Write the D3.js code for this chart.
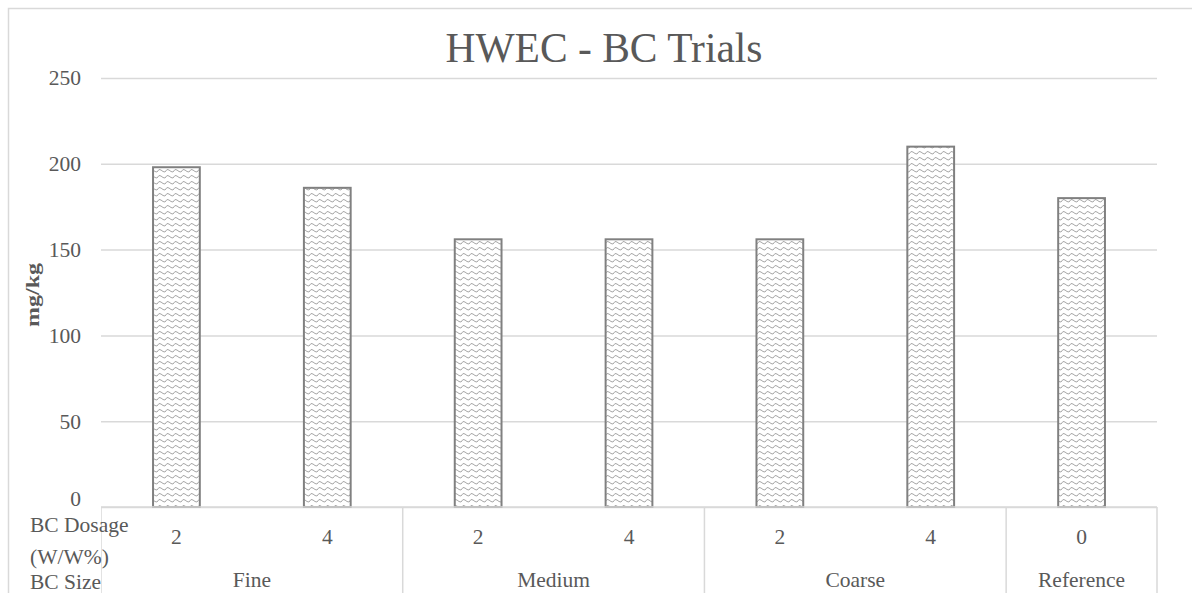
<!DOCTYPE html>
<html>
<head>
<meta charset="utf-8">
<script src="https://cdn.jsdelivr.net/npm/d3@7"></script>
<style>
  html, body { margin: 0; padding: 0; background: #fff; overflow: hidden; }
  svg text { fill: #595959; }
</style>
</head>
<body>
<div id="chart"></div>
<script>
// chart values
var sizeGroups = ["Fine", "Fine", "Medium", "Medium", "Coarse", "Coarse", "Reference"];
var dosages = ["2", "4", "2", "4", "2", "4", "0"];
var values = [198, 186, 156, 156, 156, 210, 180];
var yTicks = [0, 50, 100, 150, 200, 250];
var rowLabels = ["BC Dosage", "(W/W%)", "BC Size"];

var FONT = "'Liberation Serif', 'Times New Roman', serif";
var width = 1192, height = 593;
var margin = { left: 101, right: 35, top: 78, bottom: 86 };
var innerW = width - margin.left - margin.right;
var innerH = height - margin.top - margin.bottom;

var svg = d3.select("#chart").append("svg")
    .attr("width", width)
    .attr("height", height)
    .attr("font-family", FONT);

// pattern for the bars (wavy line fill)
var defs = svg.append("defs");
var pat = defs.append("pattern")
    .attr("id", "wave")
    .attr("patternUnits", "userSpaceOnUse")
    .attr("width", 8)
    .attr("height", 6);
pat.append("rect").attr("width", 8).attr("height", 6).attr("fill", "#fff");
pat.append("path")
    .attr("d", "M0,4 Q2,0 4,2 T8,4")
    .attr("fill", "none")
    .attr("stroke", "#a6a6a6")
    .attr("stroke-width", 1);

// outer border
svg.append("rect")
    .attr("x", 8.5).attr("y", 8.5)
    .attr("width", 1200).attr("height", 600)
    .attr("fill", "none")
    .attr("stroke", "#d9d9d9")
    .attr("stroke-width", 1.5);

var keys = values.map(function (d, i) { return i; });
var x = d3.scaleBand()
    .domain(keys)
    .range([0, innerW])
    .paddingInner(0.69)
    .paddingOuter(0.345);
var step = innerW / keys.length;

var y = d3.scaleLinear().domain([0, 250]).range([innerH, 0]);

var g = svg.append("g").attr("transform", "translate(" + margin.left + "," + margin.top + ")");

// gridlines + tick labels
var yAxis = d3.axisLeft(y)
    .tickValues(yTicks)
    .tickSize(-innerW)
    .tickPadding(20);
var ya = g.append("g").call(yAxis).attr("font-family", FONT);
ya.select(".domain").remove();
ya.selectAll(".tick line").attr("stroke", "#d9d9d9").attr("stroke-width", 1.5);
ya.selectAll(".tick text")
    .attr("font-size", 21.5)
    .attr("fill", "#595959")
    .attr("dy", function (d) { return d === 0 ? "-0.05em" : "0.32em"; });

// bars
g.selectAll("rect.bar").data(values).enter().append("rect")
    .attr("class", "bar")
    .attr("x", function (d, i) { return x(i); })
    .attr("y", function (d) { return y(d); })
    .attr("width", x.bandwidth())
    .attr("height", function (d) { return innerH - y(d); })
    .attr("fill", "url(#wave)")
    .attr("stroke", "#808080")
    .attr("stroke-width", 2);

// white area under the axis at left
svg.append("rect")
    .attr("x", 10).attr("y", margin.top + innerH)
    .attr("width", margin.left - 10).attr("height", 100)
    .attr("fill", "#fff");

// data table under the axis
var tb = g.append("g").attr("transform", "translate(0," + innerH + ")");
tb.append("line")
    .attr("x1", 0).attr("x2", innerW)
    .attr("y1", 0).attr("y2", 0)
    .attr("stroke", "#d9d9d9").attr("stroke-width", 1.5);

// group spans built from the size list
var groups = [];
sizeGroups.forEach(function (s, i) {
    var last = groups[groups.length - 1];
    if (last && last.name === s) last.end = i;
    else groups.push({ name: s, start: i, end: i });
});

var bounds = [0].concat(groups.map(function (gr) { return gr.end + 1; }));
tb.selectAll("line.sep").data(bounds).enter().append("line")
    .attr("class", "sep")
    .attr("x1", function (d) { return d * step; })
    .attr("x2", function (d) { return d * step; })
    .attr("y1", 0).attr("y2", 120)
    .attr("stroke", "#d9d9d9").attr("stroke-width", 1.5);

tb.selectAll("text.dose").data(dosages).enter().append("text")
    .attr("class", "dose")
    .attr("x", function (d, i) { return x(i) + x.bandwidth() / 2; })
    .attr("y", 37)
    .attr("text-anchor", "middle")
    .attr("font-size", 21.5)
    .text(function (d) { return d; });

tb.selectAll("text.size").data(groups).enter().append("text")
    .attr("class", "size")
    .attr("x", function (d) { return (d.start + d.end + 1) / 2 * step; })
    .attr("y", 80)
    .attr("text-anchor", "middle")
    .attr("font-size", 21.5)
    .text(function (d) { return d.name; });

svg.selectAll("text.row").data(rowLabels).enter().append("text")
    .attr("class", "row")
    .attr("x", 30)
    .attr("y", function (d, i) { return [532, 564, 589][i]; })
    .attr("font-size", 21.5)
    .text(function (d) { return d; });

// title
svg.append("text")
    .attr("x", 604)
    .attr("y", 62)
    .attr("text-anchor", "middle")
    .attr("font-size", 41.5)
    .text("HWEC - BC Trials");

// y axis title
svg.append("text")
    .attr("transform", "translate(39,295) rotate(-90)")
    .attr("text-anchor", "middle")
    .attr("font-size", 19)
    .attr("font-weight", "bold")
    .attr("textLength", 64)
    .attr("lengthAdjust", "spacingAndGlyphs")
    .text("mg/kg");
</script>
</body>
</html>
